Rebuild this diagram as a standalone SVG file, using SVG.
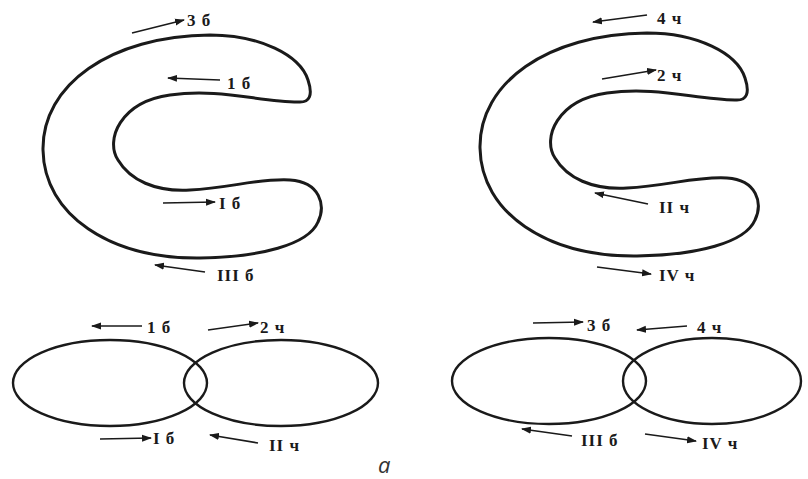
<svg xmlns="http://www.w3.org/2000/svg" width="808" height="479" viewBox="0 0 808 479">
<style>
.shape{fill:none;stroke:#1a1a1a;stroke-width:3}
.ell{fill:none;stroke:#1a1a1a;stroke-width:2.4}
.arr{fill:none;stroke:#1a1a1a;stroke-width:1.6;marker-end:url(#ah)}
.lbl{font-family:"Liberation Serif","Times New Roman",serif;font-weight:bold;font-size:17px;letter-spacing:1px;fill:#1a1a1a}
.cap{font-family:"Open Sans","Noto Sans",sans-serif;font-style:italic;font-size:22px;fill:#333}
</style>
<defs>
<marker id="ah" markerWidth="10" markerHeight="8" refX="9" refY="4" orient="auto" markerUnits="userSpaceOnUse">
<path d="M0,0.5 L10,4 L0,7.5 Z" fill="#1a1a1a"/>
</marker>
<path id="cshape" d="M210,35 C260,35 300,55 308,80 C313,95 310,103 298,102 C260,102 220,88 170,95 C120,102 105,140 118,160 C130,180 155,192 190,190 C230,188 260,178 290,180 C320,182 326,205 318,222 C308,245 260,257 200,258 C110,259 44,215 43,150 C42,85 110,36 210,35 Z"/>
</defs>
<rect width="808" height="479" fill="#fff"/>
<g id="c-left"><use href="#cshape" class="shape"/></g>
<g id="c-right"><use href="#cshape" class="shape" transform="translate(437,-2)"/></g>
<g id="ellipses-left">
<ellipse cx="110" cy="383" rx="97" ry="43" class="ell"/>
<ellipse cx="281" cy="383" rx="97" ry="43" class="ell"/>
</g>
<g id="ellipses-right">
<ellipse cx="549" cy="381" rx="97" ry="43" class="ell"/>
<ellipse cx="712" cy="381" rx="89" ry="43" class="ell"/>
</g>
<g id="connectors">
<line x1="132" y1="33" x2="184" y2="20" class="arr"/>
<line x1="220" y1="80" x2="168" y2="78" class="arr"/>
<line x1="163" y1="203" x2="215" y2="202" class="arr"/>
<line x1="205" y1="272" x2="155" y2="265" class="arr"/>
<line x1="647" y1="15" x2="593" y2="22" class="arr"/>
<line x1="602" y1="79" x2="656" y2="70" class="arr"/>
<line x1="648" y1="204" x2="595" y2="193" class="arr"/>
<line x1="597" y1="267" x2="651" y2="274" class="arr"/>
<line x1="142" y1="326" x2="92" y2="326" class="arr"/>
<line x1="208" y1="330" x2="258" y2="323" class="arr"/>
<line x1="100" y1="439" x2="151" y2="438" class="arr"/>
<line x1="258" y1="443" x2="210" y2="435" class="arr"/>
<line x1="533" y1="323" x2="583" y2="322" class="arr"/>
<line x1="687" y1="326" x2="637" y2="330" class="arr"/>
<line x1="572" y1="436" x2="522" y2="429" class="arr"/>
<line x1="645" y1="434" x2="696" y2="441" class="arr"/>
</g>
<g id="labels">
<text x="187" y="26" class="lbl">3 б</text>
<text x="227" y="89" class="lbl">1 б</text>
<text x="219" y="209" class="lbl">I б</text>
<text x="217" y="281" class="lbl">III б</text>
<text x="657" y="24" class="lbl">4 ч</text>
<text x="657" y="81" class="lbl">2 ч</text>
<text x="659" y="213" class="lbl">II ч</text>
<text x="659" y="281" class="lbl">IV ч</text>
<text x="147" y="333" class="lbl">1 б</text>
<text x="260" y="333" class="lbl">2 ч</text>
<text x="153" y="444" class="lbl">I б</text>
<text x="269" y="451" class="lbl">II ч</text>
<text x="587" y="331" class="lbl">3 б</text>
<text x="697" y="333" class="lbl">4 ч</text>
<text x="581" y="446" class="lbl">III б</text>
<text x="702" y="449" class="lbl">IV ч</text>
<text x="378" y="473" class="cap">a</text>
</g>
</svg>
